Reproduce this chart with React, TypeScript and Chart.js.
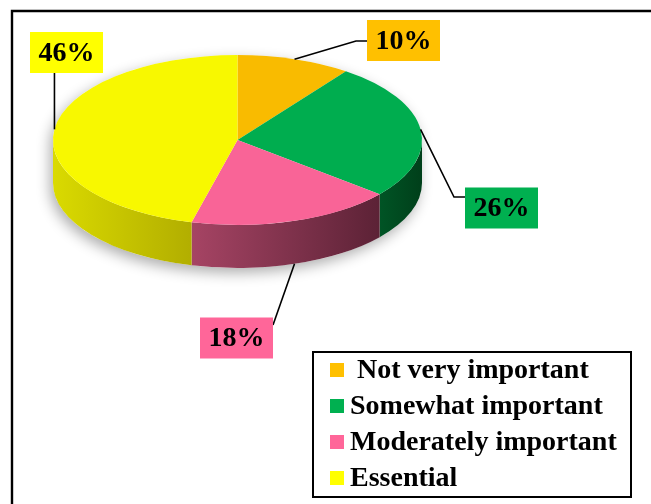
import React, { useEffect, useRef } from "react";
import { Chart, registerables } from "chart.js";

Chart.register(...registerables);

// ---- data ----
const labels = [" Not very important", "Somewhat important", "Moderately important", "Essential"];
const values = [10, 26, 18, 46];

// ---- styles ----
const topColors = ["#F9BB00", "#00AD4F", "#F96497", "#F8F800"];
const legendColors = ["#FFC000", "#00B050", "#FF6699", "#FFFF00"];
const sideColors: [string, string][] = [
  ["#B08300", "#8A6600"],
  ["#005425", "#003F1A"],
  ["#A64464", "#5C2236"],
  ["#DADA00", "#B2AE00"],
];
const labelBoxColors = ["#FFC000", "#00B050", "#FF6699", "#FFFF00"];

const FONT = '"Liberation Serif", "Times New Roman", serif';
const GEO = { cy: 140, ry: 85, depth: 43 };

// label box placement (centre) and leader path (elbow points), per slice
const labelLayout = [
  { cx: 403.5, cy: 40.5, via: [[356, 41]], end: [367, 41] },
  { cx: 501.5, cy: 208, via: [[454, 197]], end: [465, 197] },
  { cx: 236.5, cy: 338, via: [], end: [273, 325] },
  { cx: 66.5, cy: 52.5, via: [], end: null },
];

const legendBox = { x: 313, y: 352, w: 318, h: 145, rowY0: 370, rowGap: 36, sqX: 330, sq: 14, textX: 350 };

const pie3d = {
  id: "pie3d",
  beforeDatasetsDraw(chart: any) {
    const ctx = chart.ctx as CanvasRenderingContext2D;
    const arcs = chart.getDatasetMeta(0).data;
    const cx = arcs[0].x;
    const cyA = arcs[0].y;
    const R = arcs[0].outerRadius;
    const { cy, ry, depth } = GEO;

    // shadow
    ctx.save();
    ctx.shadowColor = "rgba(0,0,0,0.32)";
    ctx.shadowBlur = 14;
    ctx.shadowOffsetX = -3;
    ctx.shadowOffsetY = 5;
    ctx.beginPath();
    ctx.ellipse(cx, cy, R, ry, 0, Math.PI, 2 * Math.PI, false);
    ctx.lineTo(cx + R, cy + depth);
    ctx.ellipse(cx, cy + depth, R, ry, 0, 0, Math.PI, false);
    ctx.closePath();
    ctx.fillStyle = "#ffffff";
    ctx.fill();
    ctx.restore();

    // sides
    arcs.forEach((arc: any, i: number) => {
      const a1 = Math.max(arc.startAngle, 0);
      const a2 = Math.min(arc.endAngle, Math.PI);
      if (a2 <= a1) return;
      const xl = cx + R * Math.cos(a2);
      const xr = cx + R * Math.cos(a1);
      const g = ctx.createLinearGradient(xl, 0, xr, 0);
      g.addColorStop(0, sideColors[i][0]);
      g.addColorStop(1, sideColors[i][1]);
      ctx.beginPath();
      ctx.ellipse(cx, cy, R, ry, 0, a1, a2, false);
      ctx.lineTo(cx + R * Math.cos(a2), cy + depth + ry * Math.sin(a2));
      ctx.ellipse(cx, cy + depth, R, ry, 0, a2, a1, true);
      ctx.closePath();
      ctx.fillStyle = g;
      ctx.fill();
    });

    // squash the top face into an ellipse
    ctx.save();
    const k = ry / R;
    ctx.translate(0, cy - cyA * k);
    ctx.scale(1, k);
  },
  afterDatasetsDraw(chart: any) {
    const ctx = chart.ctx as CanvasRenderingContext2D;
    ctx.restore();
    const arcs = chart.getDatasetMeta(0).data;
    const cx = arcs[0].x;
    const R = arcs[0].outerRadius;
    const { cy, ry, depth } = GEO;
    const total = values.reduce((a, b) => a + b, 0);

    // data labels with leader lines
    ctx.save();
    ctx.font = `bold 28px ${FONT}`;
    arcs.forEach((arc: any, i: number) => {
      const mid = (arc.startAngle + arc.endAngle) / 2;
      const ax = cx + R * Math.cos(mid);
      let ay = cy + ry * Math.sin(mid);
      if (Math.sin(mid) > 0) ay += depth;
      const L = labelLayout[i];
      const text = Math.round((values[i] / total) * 100) + "%";
      const tw = ctx.measureText(text).width;
      const bw = tw + 17;
      const bh = 41;
      const bx = L.cx - bw / 2;
      const by = L.cy - bh / 2;
      // leader
      ctx.beginPath();
      ctx.moveTo(ax, ay);
      L.via.forEach((p) => ctx.lineTo(p[0], p[1]));
      if (L.end) ctx.lineTo(L.end[0], L.end[1]);
      else ctx.lineTo(ax, by + bh);
      ctx.strokeStyle = "#000";
      ctx.lineWidth = 1.6;
      ctx.stroke();
      // box
      ctx.fillStyle = labelBoxColors[i];
      ctx.fillRect(bx, by, bw, bh);
      ctx.fillStyle = "#000";
      ctx.textAlign = "center";
      ctx.textBaseline = "middle";
      ctx.fillText(text, L.cx, L.cy + 1);
    });
    ctx.restore();

    // legend
    ctx.save();
    const lb = legendBox;
    ctx.fillStyle = "#fff";
    ctx.fillRect(lb.x, lb.y, lb.w, lb.h);
    ctx.strokeStyle = "#000";
    ctx.lineWidth = 2;
    ctx.strokeRect(lb.x, lb.y, lb.w, lb.h);
    ctx.font = `bold 28px ${FONT}`;
    ctx.textAlign = "left";
    ctx.textBaseline = "middle";
    labels.forEach((lab, i) => {
      const y = lb.rowY0 + i * lb.rowGap;
      ctx.fillStyle = legendColors[i];
      ctx.fillRect(lb.sqX, y - lb.sq / 2, lb.sq, lb.sq);
      ctx.fillStyle = "#000";
      ctx.fillText(lab, lb.textX, y + 1);
    });
    ctx.restore();

    // frame
    ctx.save();
    ctx.strokeStyle = "#000";
    ctx.lineWidth = 2.4;
    ctx.beginPath();
    ctx.moveTo(12, 504);
    ctx.lineTo(12, 11);
    ctx.lineTo(651, 11);
    ctx.stroke();
    ctx.restore();
  },
};

export default function App() {
  const ref = useRef<HTMLCanvasElement>(null);
  useEffect(() => {
    if (!ref.current) return;
    const chart = new Chart(ref.current, {
      type: "pie",
      data: {
        labels,
        datasets: [
          {
            data: values,
            backgroundColor: topColors,
            borderWidth: 0,
            hoverOffset: 0,
            clip: false as any,
          } as any,
        ],
      },
      options: {
        responsive: false,
        animation: false,
        events: [],
        layout: { padding: { left: 53, right: 229, top: 0, bottom: 135 } },
        plugins: { legend: { display: false }, tooltip: { enabled: false } },
      },
      plugins: [pie3d as any],
    });
    return () => chart.destroy();
  }, []);
  return (
    <div style={{ position: "absolute", left: 0, top: 0, width: 651, height: 504, background: "#fff" }}>
      <canvas ref={ref} width={651} height={504} style={{ display: "block", width: 651, height: 504 }} />
    </div>
  );
}
